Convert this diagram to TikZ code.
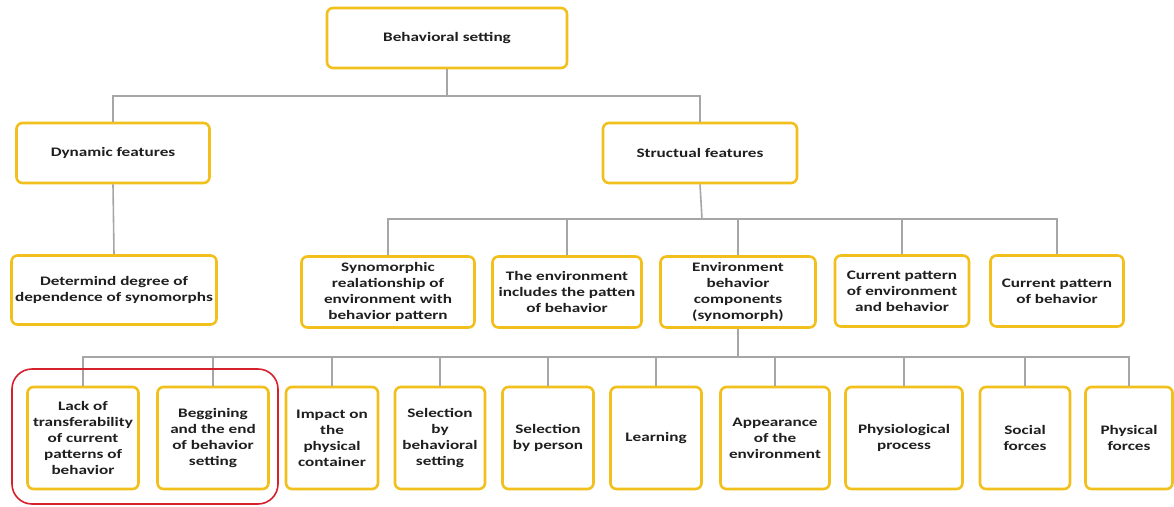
\documentclass[tikz,border=0pt]{standalone}
\usepackage{fontspec}
\setmainfont{Carlito}[FakeStretch=1.32]
\definecolor{boxgold}{RGB}{242,192,28}
\definecolor{linegray}{RGB}{166,166,166}
\definecolor{ringred}{RGB}{214,32,44}
\begin{document}
\begin{tikzpicture}[x=1pt,y=-1pt]
      \tikzset{box/.style={draw=boxgold, line width=2.6pt, rounded corners=6pt, fill=white, align=center, inner sep=2pt, text=black!88, font=\bfseries\fontsize{13}{16}\selectfont}}
      \tikzset{link/.style={draw=linegray, line width=1.6pt}}
      \tikzset{ring/.style={draw=ringred, line width=1.6pt, rounded corners=20pt}}
      \useasboundingbox (0,0) rectangle (1174,506);
%% Top levels
      	\node[box, minimum width=240pt, minimum height=60pt] (top) at (447,38) {Behavioral setting};
      	\node[box, minimum width=193pt, minimum height=60pt] (dyn) at (113,153) {Dynamic features};
      	\node[box, minimum width=194pt, minimum height=60pt] (str) at (700,153) {Structual features};
%% Second level
      	\node[box, minimum width=205pt, minimum height=69pt] (det) at (114,290) {Determind degree of\\dependence of synomorphs};
      	\node[box, minimum width=173pt, minimum height=71pt] (syn) at (388,292) {Synomorphic\\realationship of\\environment with\\behavior pattern};
      	\node[box, minimum width=149pt, minimum height=71pt] (envinc) at (567,292) {The environment\\includes the patten\\of behavior};
      	\node[box, minimum width=155pt, minimum height=71pt] (envcomp) at (738,292) {Environment\\behavior\\components\\(synomorph)};
      	\node[box, minimum width=134pt, minimum height=71pt] (curenv) at (902,291) {Current pattern\\of environment\\and behavior};
      	\node[box, minimum width=133pt, minimum height=71pt] (curbeh) at (1057,291) {Current pattern\\of behavior};
%% Third level
      	\node[box, minimum width=111pt, minimum height=102pt] (lack) at (83,438) {Lack of\\transferability\\of current\\patterns of\\behavior};
      	\node[box, minimum width=111pt, minimum height=102pt] (beg) at (213,438) {Beggining\\and the end\\of behavior\\setting};
      	\node[box, minimum width=92pt, minimum height=102pt] (imp) at (332,438) {Impact on\\the\\physical\\container};
      	\node[box, minimum width=90pt, minimum height=102pt] (selbs) at (440,438) {Selection\\by\\behavioral\\setting};
      	\node[box, minimum width=91pt, minimum height=102pt] (selp) at (548,438) {Selection\\by person};
      	\node[box, minimum width=91pt, minimum height=102pt] (learn) at (656,438) {Learning};
      	\node[box, minimum width=109pt, minimum height=102pt] (app) at (775,438) {Appearance\\of the\\environment};
      	\node[box, minimum width=117pt, minimum height=102pt] (phys) at (904,438) {Physiological\\process};
      	\node[box, minimum width=90pt, minimum height=102pt] (soc) at (1025,438) {Social\\forces};
      	\node[box, minimum width=87pt, minimum height=102pt] (physf) at (1129,438) {Physical\\forces};
%Lines
      	\coordinate (bus1) at (447,96);
      	\coordinate (bus2) at (702,219);
      	\coordinate (bus3) at (738,357);
		\draw[link] (top.south) -- (bus1) -| (dyn.north);
		\draw[link] (bus1) -| (str.north);
		\draw[link] (dyn.south) -- (det.north);
		\draw[link] (str.south) -- (bus2);
		\foreach \n in {syn,envinc,envcomp,curenv,curbeh}
			\draw[link] (bus2) -| (\n.north);
		\draw[link] (envcomp.south) -- (bus3);
		\foreach \n in {lack,beg,imp,selbs,selp,learn,app,phys,soc,physf}
			\draw[link] (bus3) -| (\n.north);
%Highlight
		\draw[ring] (12,369) rectangle (278,504);
	\end{tikzpicture}
\end{document}
